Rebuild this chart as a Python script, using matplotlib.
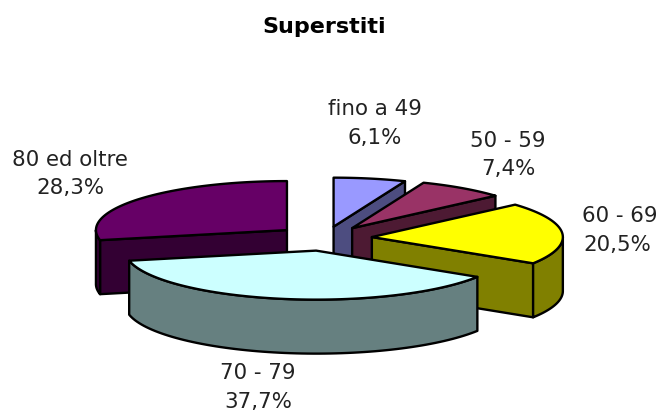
import numpy as np
import matplotlib
matplotlib.use("Agg")
import matplotlib.pyplot as plt
from matplotlib.patches import Polygon

# dati
categorie = ["fino a 49", "50 - 59", "60 - 69", "70 - 79", "80 ed oltre"]
valori = [6.1, 7.4, 20.5, 37.7, 28.3]

colori_top = ["#9999FF", "#993366", "#FFFF00", "#CCFFFF", "#660066"]
colori_lato = ["#4D4D80", "#4D1A33", "#808000", "#668080", "#330033"]
esplosione = [45, 47, 47, 50, 49]  # spostamento di ogni fetta, in px
ordine = [0, 1, 4, 2, 3]  # dal fondo verso il davanti

# geometria della torta (pixel)
cx, cy = 325, 238
rx, ry = 191, 49
spessore = 54
lw = 1.7

fig = plt.figure(figsize=(6.63, 4.11), dpi=100, facecolor="white")
ax = fig.add_axes([0, 0, 1, 1])
ax.set_xlim(0, 663)
ax.set_ylim(411, 0)
ax.axis("off")


def bordo(a0, a1, ox, oy):
    # punti dell'ellisse tra due angoli, in senso orario dall'alto
    t = np.radians(np.linspace(a0, a1, 80))
    return np.column_stack([ox + rx * np.sin(t), oy - ry * np.cos(t)])


def faccia(punti, colore, z):
    ax.add_patch(Polygon(punti, closed=True, facecolor=colore, edgecolor="black",
                         linewidth=lw, joinstyle="round", zorder=z))


fine = np.cumsum(valori) / np.sum(valori) * 360
inizio = np.concatenate([[0], fine[:-1]])

for z, i in enumerate(ordine):
    a0, a1 = inizio[i], fine[i]
    mid = np.radians((a0 + a1) / 2)
    ox = cx + esplosione[i] * np.sin(mid)
    oy = cy - esplosione[i] * np.cos(mid) * ry / rx
    giu = np.array([0, spessore])
    apice = np.array([ox, oy])
    arco = bordo(a0, a1, ox, oy)
    base = z * 10

    # facce di taglio, solo quelle rivolte verso chi guarda
    if 180 < a0 < 360:
        faccia([apice, arco[0], arco[0] + giu, apice + giu], colori_lato[i], base)
    if 0 < a1 < 180:
        faccia([apice, arco[-1], arco[-1] + giu, apice + giu], colori_lato[i], base + 1)

    # parete esterna, solo la parte davanti
    w0, w1 = max(a0, 90), min(a1, 270)
    if w0 < w1:
        parete = bordo(w0, w1, ox, oy)
        faccia(np.vstack([parete, parete[::-1] + giu]), colori_lato[i], base + 2)

    faccia(np.vstack([[apice], arco]), colori_top[i], base + 3)

ax.text(324, 27, "Superstiti", fontsize=16, fontweight="bold", ha="center", va="center", color="black")

testo = dict(fontsize=15.4, color="#222222", va="center", ha="center", zorder=100)
perc = [f"{v:.1f}%".replace(".", ",") for v in valori]
ax.text(375, 109, categorie[0], **testo)
ax.text(375, 138, perc[0], **testo)
ax.text(508, 141, categorie[1], **testo)
ax.text(508, 169, perc[1], **testo)
ax.text(620, 216, categorie[2], **testo)
ax.text(617, 245, perc[2], **testo)
ax.text(258, 373, categorie[3], **testo)
ax.text(258, 402, perc[3], **testo)
ax.text(70, 160, categorie[4], **testo)
ax.text(70, 188, perc[4], **testo)

fig.savefig("out.png", dpi=100, facecolor="white")
